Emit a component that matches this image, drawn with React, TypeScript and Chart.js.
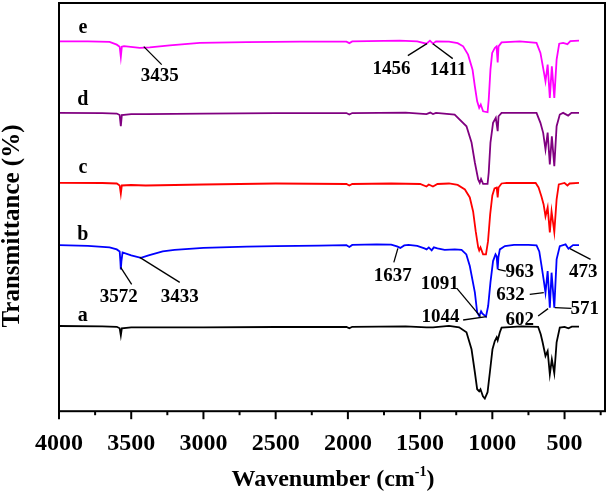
import { useEffect, useRef } from "react";
import { Chart, registerables } from "chart.js";

Chart.register(...registerables);

const FONT = "'Liberation Serif', 'Times New Roman', serif";

// [wavenumber (cm-1), transmittance (a.u., offset spectra)]
const seriesA: [number, number][] = [
  [4000, 85.3], [3700, 85], [3600, 84.5], [3580, 83], [3572, 76], [3565, 83], [3500, 84],
  [3000, 84], [2500, 84.3], [2010, 84.3], [1990, 83], [1970, 84.5], [1600, 85], [1456, 84],
  [1411, 84], [1300, 85.5], [1230, 84], [1179, 79], [1144, 62], [1121, 39], [1105, 22],
  [1091, 20], [1082, 22], [1065, 15], [1052, 12.7], [1033, 19], [1017, 39], [999, 62],
  [983, 70.3], [970, 74], [963, 71], [948, 79], [936, 83.7], [800, 85], [683, 84.5],
  [665, 77], [652, 69], [632, 55.3], [617, 60.3], [602, 37], [588, 52], [571, 38],
  [555, 69], [533, 83.7], [500, 84.5], [473, 83], [450, 84.7], [400, 84.7],
];

const seriesB: [number, number][] = [
  [4000, 166.3], [3800, 165.5], [3650, 164], [3600, 162], [3580, 160], [3575, 150], [3572, 142],
  [3568, 150], [3560, 159], [3500, 156], [3433, 153.5], [3380, 156], [3282, 160], [3200, 161.5],
  [3000, 163.5], [2700, 164.7], [2500, 165.2], [2200, 165.7], [2010, 166.2], [1990, 164.5],
  [1970, 166.5], [1800, 167], [1700, 166.8], [1660, 165], [1637, 163.5], [1610, 166],
  [1580, 166.5], [1520, 165.5], [1470, 163], [1455, 162], [1440, 164], [1420, 161], [1405, 164],
  [1380, 163], [1330, 161.5], [1260, 162], [1213, 161.5], [1180, 157], [1156, 145.3], [1121, 119],
  [1105, 99], [1091, 95.3], [1078, 100], [1070, 98], [1044, 94.7], [1029, 105.3], [1013, 129],
  [995, 150.3], [978, 157], [970, 155], [963, 142], [958, 154], [948, 162], [913, 165.3],
  [850, 166.5], [750, 166.5], [694, 166], [675, 160], [659, 145.3], [645, 132], [632, 118.7],
  [617, 140.3], [602, 103.7], [590, 138.7], [571, 103.7], [555, 152], [533, 165.3], [493, 167],
  [473, 162.7], [441, 166.3], [400, 166.3],
];

const seriesC: [number, number][] = [
  [4000, 228.7], [3700, 228.5], [3600, 228], [3580, 226], [3572, 217.7], [3565, 226], [3500, 226.5],
  [3400, 226], [3200, 226.5], [3000, 227], [2500, 228], [2010, 227.5], [1990, 226], [1970, 227.5],
  [1700, 228], [1500, 227.5], [1456, 225], [1440, 227], [1411, 225], [1380, 227.5], [1300, 228],
  [1240, 226.5], [1190, 222], [1156, 214], [1133, 200], [1115, 180], [1098, 164], [1091, 161],
  [1082, 164], [1064, 157], [1044, 157], [1030, 170], [1015, 197], [1000, 216], [985, 223],
  [970, 224], [963, 214], [957, 224], [936, 228], [900, 228.7], [700, 228.5], [680, 224],
  [660, 215], [645, 207], [632, 195], [617, 204], [602, 179], [590, 200], [571, 179.3],
  [555, 212], [540, 227], [500, 228.5], [480, 226], [465, 228], [400, 228.7],
];

const seriesD: [number, number][] = [
  [4000, 298.7], [3700, 298.5], [3600, 298], [3580, 296.5], [3572, 285.3], [3565, 296.5],
  [3500, 297.5], [3400, 297.5], [3000, 298], [2500, 298.5], [2010, 298.5], [1990, 297],
  [1970, 298.5], [1600, 299], [1456, 297.5], [1430, 299], [1411, 297.5], [1390, 298.7],
  [1261, 297], [1179, 285.3], [1144, 269], [1121, 249], [1098, 232], [1087, 228.7], [1078, 232.5],
  [1064, 227.7], [1033, 227.7], [1025, 239], [1013, 269], [995, 288.7], [976, 293.7], [963, 280.3],
  [957, 295.3], [936, 298.7], [694, 298.7], [667, 288.7], [648, 278.7], [632, 262], [617, 279],
  [602, 247], [588, 275.3], [571, 245.3], [555, 285.3], [533, 297], [510, 298.7], [475, 296],
  [452, 298.7], [400, 298.7],
];

const seriesE: [number, number][] = [
  [4000, 370.3], [3800, 370.2], [3650, 369.7], [3600, 367], [3580, 365], [3572, 354.7], [3565, 365],
  [3550, 365.5], [3441, 363.7], [3372, 364.3], [3233, 366.3], [3025, 368.7], [2700, 369.5],
  [2333, 370], [2010, 370], [1990, 368.5], [1970, 370.2], [1641, 371], [1520, 370.3], [1456, 368],
  [1432, 371], [1411, 368], [1390, 370.3], [1300, 370], [1240, 368.5], [1202, 365.3], [1168, 357],
  [1137, 342], [1121, 325.3], [1105, 310.3], [1091, 303.7], [1080, 307], [1064, 300.3],
  [1033, 299.3], [1025, 312], [1013, 342], [1001, 358.7], [983, 363.7], [971, 365.3], [963, 349.3],
  [957, 365.3], [936, 369.3], [810, 370.3], [694, 368.7], [667, 358.7], [644, 340.3], [632, 330.3],
  [617, 347], [602, 313.7], [588, 345.3], [571, 313.7], [555, 352], [537, 368], [510, 368.7],
  [480, 367.5], [460, 370.5], [400, 371],
];

const seriesNames = ["a", "b", "c", "d", "e"];
const seriesColors = ["#000000", "#0000FF", "#FF0000", "#800080", "#FF00FF"];
const seriesLabelX = [3835, 3835, 3835, 3835, 3835];
const seriesLabelY = [95, 177, 244, 312, 384];

const peakLabels = ["3435", "1456", "1411", "3572", "3433", "1637", "963", "1091", "1044", "632", "602", "571", "473"];
const peakTextX = [3303, 1698, 1306, 3587, 3164, 1689, 810, 1364, 1359, 874, 810, 360, 371];
const peakTextY = [336, 342.7, 342, 114, 114, 135, 139.3, 127, 94.7, 116, 91.3, 102, 139.3];
const leaderX1 = [3413, 1585, 1412, 3573, 3441, 1654, 960, 1244, 1202, 741, 683, 568, 463];
const leaderY1 = [365, 356, 368, 144, 154, 163, 142, 122.7, 91.3, 117, 95.3, 103.7, 162.7];
const leaderX2 = [3289, 1453, 1274, 3497, 3164, 1682, 907, 1082, 1040, 644, 614, 452, 320];
const leaderY2 = [347, 368, 353, 127, 129, 149, 140.3, 94.7, 94.7, 118.7, 102.7, 103, 152];

const xTickValues = [4000, 3500, 3000, 2500, 2000, 1500, 1000, 500];
const xMin = 220;
const xMax = 4000;
const xMinorStep = 250;
const yMin = 0;
const yMax = 408.7;

const overlayPlugin = {
  id: "overlay",
  afterDraw(chart: any) {
    const { ctx, chartArea: ca, scales } = chart;
    const x = scales.x;
    const y = scales.y;
    ctx.save();
    ctx.strokeStyle = "#000";
    ctx.lineWidth = 2;
    ctx.strokeRect(ca.left, ca.top, ca.right - ca.left, ca.bottom - ca.top);
    // major & minor ticks
    for (let v = xMax; v >= xMin; v -= xMinorStep) {
      const px = x.getPixelForValue(v);
      const len = xTickValues.includes(v) ? 8 : 4;
      ctx.beginPath();
      ctx.moveTo(px, ca.bottom);
      ctx.lineTo(px, ca.bottom + len);
      ctx.stroke();
    }
    // leader lines
    ctx.lineWidth = 1.3;
    for (let i = 0; i < peakLabels.length; i++) {
      ctx.beginPath();
      ctx.moveTo(x.getPixelForValue(leaderX1[i]), y.getPixelForValue(leaderY1[i]));
      ctx.lineTo(x.getPixelForValue(leaderX2[i]), y.getPixelForValue(leaderY2[i]));
      ctx.stroke();
    }
    ctx.fillStyle = "#000";
    ctx.textAlign = "center";
    ctx.textBaseline = "middle";
    ctx.font = `bold 19px ${FONT}`;
    for (let i = 0; i < peakLabels.length; i++) {
      ctx.fillText(peakLabels[i], x.getPixelForValue(peakTextX[i]), y.getPixelForValue(peakTextY[i]));
    }
    ctx.font = `bold 20px ${FONT}`;
    for (let i = 0; i < seriesNames.length; i++) {
      ctx.fillText(seriesNames[i], x.getPixelForValue(seriesLabelX[i]), y.getPixelForValue(seriesLabelY[i]));
    }
    // x title with superscript
    const mainFont = `bold 24px ${FONT}`;
    const supFont = `bold 14px ${FONT}`;
    const p1 = "Wavenumber (cm";
    const sup = "-1";
    const p3 = ")";
    ctx.font = mainFont;
    const w1 = ctx.measureText(p1).width;
    const w3 = ctx.measureText(p3).width;
    ctx.font = supFont;
    const w2 = ctx.measureText(sup).width;
    const total = w1 + w2 + w3;
    const cx = (ca.left + ca.right) / 2 + 1;
    let sx = cx - total / 2;
    const base = ca.bottom + 75;
    ctx.textAlign = "left";
    ctx.textBaseline = "alphabetic";
    ctx.font = mainFont;
    ctx.fillText(p1, sx, base);
    sx += w1;
    ctx.font = supFont;
    ctx.fillText(sup, sx, base - 10);
    sx += w2;
    ctx.font = mainFont;
    ctx.fillText(p3, sx, base);
    // y title
    ctx.translate(13, 226);
    ctx.rotate(-Math.PI / 2);
    ctx.textAlign = "center";
    ctx.textBaseline = "middle";
    ctx.font = `bold 25px ${FONT}`;
    ctx.fillText("Transmittance (%)", 0, 0);
    ctx.restore();
  },
};

export default function App() {
  const ref = useRef<HTMLCanvasElement | null>(null);
  useEffect(() => {
    if (!ref.current) return;
    const all = [seriesA, seriesB, seriesC, seriesD, seriesE];
    const chart = new Chart(ref.current, {
      type: "line",
      data: {
        datasets: all.map((s, i) => ({
          label: seriesNames[i],
          data: s.map(([wx, wy]) => ({ x: wx, y: wy })),
          borderColor: seriesColors[i],
          backgroundColor: seriesColors[i],
          borderWidth: 1.8,
          pointRadius: 0,
          tension: 0,
          fill: false,
        })),
      },
      options: {
        animation: false,
        responsive: false,
        devicePixelRatio: 1,
        layout: { padding: { left: 59, right: 6, top: 3, bottom: 27.8 } },
        plugins: { legend: { display: false }, tooltip: { enabled: false } },
        scales: {
          x: {
            type: "linear",
            reverse: true,
            min: xMin,
            max: xMax,
            afterBuildTicks: (scale: any) => {
              scale.ticks = xTickValues.map((v) => ({ value: v }));
            },
            ticks: {
              autoSkip: false,
              maxRotation: 0,
              padding: 10.6,
              color: "#000",
              font: { family: FONT, size: 24, weight: "bold" },
              callback: (v: any) => String(v),
            },
            grid: { drawOnChartArea: false, drawTicks: true, tickLength: 8, color: "rgba(0,0,0,0)" },
            border: { display: false },
          },
          y: { display: false, min: yMin, max: yMax },
        },
      },
      plugins: [overlayPlugin],
    });
    return () => chart.destroy();
  }, []);
  return (
    <div style={{ position: "fixed", left: 0, top: 0, width: 611, height: 497, background: "#fff" }}>
      <canvas ref={ref} width={611} height={497} />
    </div>
  );
}
